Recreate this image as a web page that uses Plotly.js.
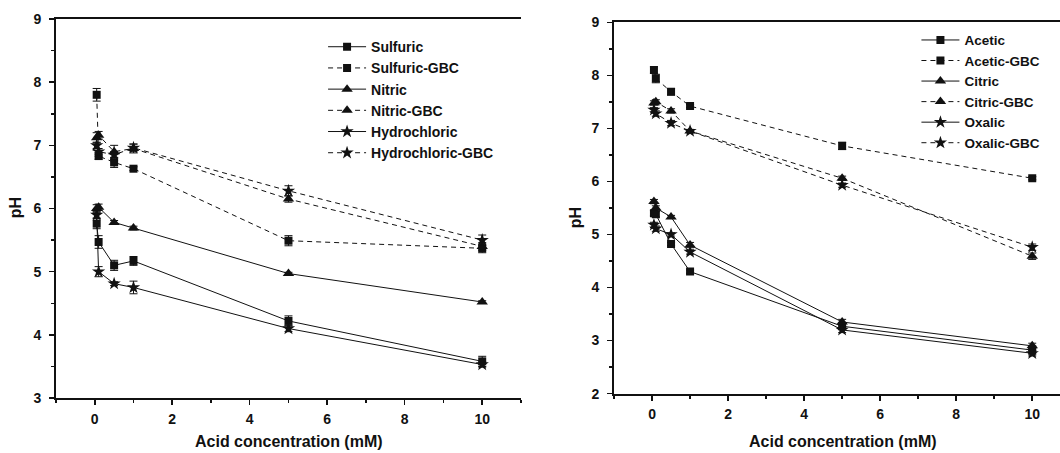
<!DOCTYPE html>
<html>
<head>
<meta charset="utf-8">
<script src="https://cdn.plot.ly/plotly-3.0.1.min.js"></script>
<style>body{margin:0;background:#fff}#chart{width:1060px;height:453px}</style>
</head>
<body>
<div id="chart"></div>
<script>
// Acid concentration (mM)
const conc = [0.05, 0.1, 0.5, 1, 5, 10];

// Left panel: strong acids (pH)
const sulfuric       = [5.76, 5.47, 5.10, 5.17, 4.22, 3.58];
const sulfuricErr    = [0.08, 0.10, 0.08, 0.07, 0.08, 0.08];
const sulfuricGBC    = [7.80, 6.83, 6.73, 6.63, 5.49, 5.37];
const sulfuricGBCErr = [0.10, 0.05, 0.08, 0.03, 0.08, 0.07];
const nitric         = [6.00, 6.02, 5.78, 5.69, 4.97, 4.52];
const nitricErr      = [0.06, 0.05, 0.03, 0.03, 0.02, 0.02];
const nitricGBC      = [7.12, 7.16, 6.90, 6.95, 6.15, 5.40];
const nitricGBCErr   = [0.08, 0.06, 0.10, 0.07, 0.05, 0.06];
const hydro          = [5.90, 5.00, 4.81, 4.75, 4.10, 3.53];
const hydroErr       = [0.05, 0.08, 0.03, 0.10, 0.05, 0.04];
const hydroGBC       = [7.00, 6.90, 6.85, 6.96, 6.28, 5.50];
const hydroGBCErr    = [0.05, 0.05, 0.05, 0.06, 0.08, 0.08];

// Right panel: organic acids (pH)
const acetic         = [5.40, 5.38, 4.82, 4.30, 3.27, 2.82];
const aceticErr      = [0.05, 0.05, 0.03, 0.03, 0.06, 0.08];
const aceticGBC      = [8.10, 7.94, 7.69, 7.42, 6.67, 6.06];
const aceticGBCErr   = [0.06, 0.08, 0.06, 0.03, 0.07, 0.03];
const citric         = [5.62, 5.50, 5.33, 4.80, 3.35, 2.90];
const citricErr      = [0.04, 0.04, 0.03, 0.05, 0.05, 0.05];
const citricGBC      = [7.48, 7.50, 7.33, 6.95, 6.06, 4.59];
const citricGBCErr   = [0.04, 0.04, 0.04, 0.03, 0.04, 0.06];
const oxalic         = [5.18, 5.11, 5.00, 4.67, 3.20, 2.76];
const oxalicErr      = [0.05, 0.05, 0.03, 0.04, 0.05, 0.05];
const oxalicGBC      = [7.35, 7.28, 7.10, 6.95, 5.93, 4.76];
const oxalicGBCErr   = [0.04, 0.05, 0.05, 0.03, 0.04, 0.06];

const xTicks = [0, 2, 4, 6, 8, 10];
const xTickText = ['0', '2', '4', '6', '8', '10'];

const INK = '#111';
function tr(name, y, err, symbol, dashed, xa, ya, leg, size) {
  return {
    type: 'scatter', mode: 'lines+markers', name: '<b>' + name + '</b>',
    x: conc, y: y, xaxis: xa, yaxis: ya, legend: leg,
    line: {color: INK, width: 1, dash: dashed ? '5px,4px' : 'solid'},
    marker: {symbol: symbol, size: size, color: INK, line: {width: 0}},
    error_y: {type: 'data', array: err, visible: true, color: INK, thickness: 1, width: 4}
  };
}
const data = [
  tr('Sulfuric', sulfuric, sulfuricErr, 'square', false, 'x', 'y', 'legend', 8),
  tr('Sulfuric-GBC', sulfuricGBC, sulfuricGBCErr, 'square', true, 'x', 'y', 'legend', 8),
  tr('Nitric', nitric, nitricErr, 'triangle-up', false, 'x', 'y', 'legend', 10),
  tr('Nitric-GBC', nitricGBC, nitricGBCErr, 'triangle-up', true, 'x', 'y', 'legend', 10),
  tr('Hydrochloric', hydro, hydroErr, 'star', false, 'x', 'y', 'legend', 10),
  tr('Hydrochloric-GBC', hydroGBC, hydroGBCErr, 'star', true, 'x', 'y', 'legend', 10),
  tr('Acetic', acetic, aceticErr, 'square', false, 'x2', 'y2', 'legend2', 8),
  tr('Acetic-GBC', aceticGBC, aceticGBCErr, 'square', true, 'x2', 'y2', 'legend2', 8),
  tr('Citric', citric, citricErr, 'triangle-up', false, 'x2', 'y2', 'legend2', 10),
  tr('Citric-GBC', citricGBC, citricGBCErr, 'triangle-up', true, 'x2', 'y2', 'legend2', 10),
  tr('Oxalic', oxalic, oxalicErr, 'star', false, 'x2', 'y2', 'legend2', 10),
  tr('Oxalic-GBC', oxalicGBC, oxalicGBCErr, 'star', true, 'x2', 'y2', 'legend2', 10)
];

const FONT = 'Arial, "Liberation Sans", sans-serif';
const tickfont = {family: FONT, size: 14, color: INK, weight: 'bold'};
function xax(domain, range, anchor) {
  return {
    domain: domain, range: range, anchor: anchor,
    tickmode: 'array', tickvals: xTicks, ticktext: xTickText,
    ticks: 'outside', ticklen: 5, tickwidth: 1.5, tickcolor: INK, ticklabelstandoff: 2,
    minor: {ticks: 'outside', ticklen: 3, tickwidth: 1.5, tickcolor: INK, dtick: 1, tick0: 1, showgrid: false},
    showline: true, linewidth: 2, linecolor: INK, mirror: true,
    showgrid: false, zeroline: false, tickfont: tickfont
  };
}
function yax(domain, range, anchor) {
  return {
    domain: domain, range: range, anchor: anchor,
    dtick: 1, ticks: 'outside', ticklen: 5, tickwidth: 1.5, tickcolor: INK, ticklabelstandoff: 5,
    minor: {ticks: 'outside', ticklen: 3, tickwidth: 1.5, tickcolor: INK, dtick: 0.5, showgrid: false},
    showline: true, linewidth: 2, linecolor: INK,
    showgrid: false, zeroline: false, tickfont: tickfont
  };
}

const layout = {
  width: 1060, height: 453,
  margin: {l: 56, r: 0, t: 19, b: 55.3},
  paper_bgcolor: '#fff', plot_bgcolor: '#fff',
  showlegend: true,
  xaxis: xax([0, 0.4631], [-1, 11], 'y'),
  yaxis: yax([0, 1], [3, 9], 'x'),
  xaxis2: xax([0.5558, 1], [-1, 10.73], 'y2'),
  yaxis2: yax([0.0116, 0.9913], [2, 9], 'x2'),
  legend: {
    x: 0.266, y: 0.968, xanchor: 'left', yanchor: 'top',
    bgcolor: 'rgba(0,0,0,0)', borderwidth: 0, tracegroupgap: 0,
    font: {family: FONT, size: 14, color: INK}, itemwidth: 38
  },
  legend2: {
    x: 0.857, y: 0.985, xanchor: 'left', yanchor: 'top',
    bgcolor: 'rgba(0,0,0,0)', borderwidth: 0, tracegroupgap: 0,
    font: {family: FONT, size: 13.5, color: INK}, itemwidth: 38
  },
  annotations: [
    {text: '<b>Acid concentration (mM)</b>', xref: 'paper', yref: 'paper', x: (288.5 - 56) / 1004, y: -0.115,
     xanchor: 'center', yanchor: 'middle', showarrow: false, font: {family: FONT, size: 16, color: INK}},
    {text: '<b>Acid concentration (mM)</b>', xref: 'paper', yref: 'paper', x: (843 - 56) / 1004, y: -0.115,
     xanchor: 'center', yanchor: 'middle', showarrow: false, font: {family: FONT, size: 16, color: INK}},
    {text: '<b>pH</b>', xref: 'paper', yref: 'paper', x: (15 - 56) / 1004, y: (397.7 - 208) / 378.7,
     xanchor: 'center', yanchor: 'middle', textangle: -90, showarrow: false, font: {family: FONT, size: 16, color: INK}},
    {text: '<b>pH</b>', xref: 'paper', yref: 'paper', x: (575 - 56) / 1004, y: (397.7 - 218) / 378.7,
     xanchor: 'center', yanchor: 'middle', textangle: -90, showarrow: false, font: {family: FONT, size: 16, color: INK}}
  ]
};

Plotly.newPlot('chart', data, layout, {displayModeBar: false, staticPlot: true});
</script>
</body>
</html>
